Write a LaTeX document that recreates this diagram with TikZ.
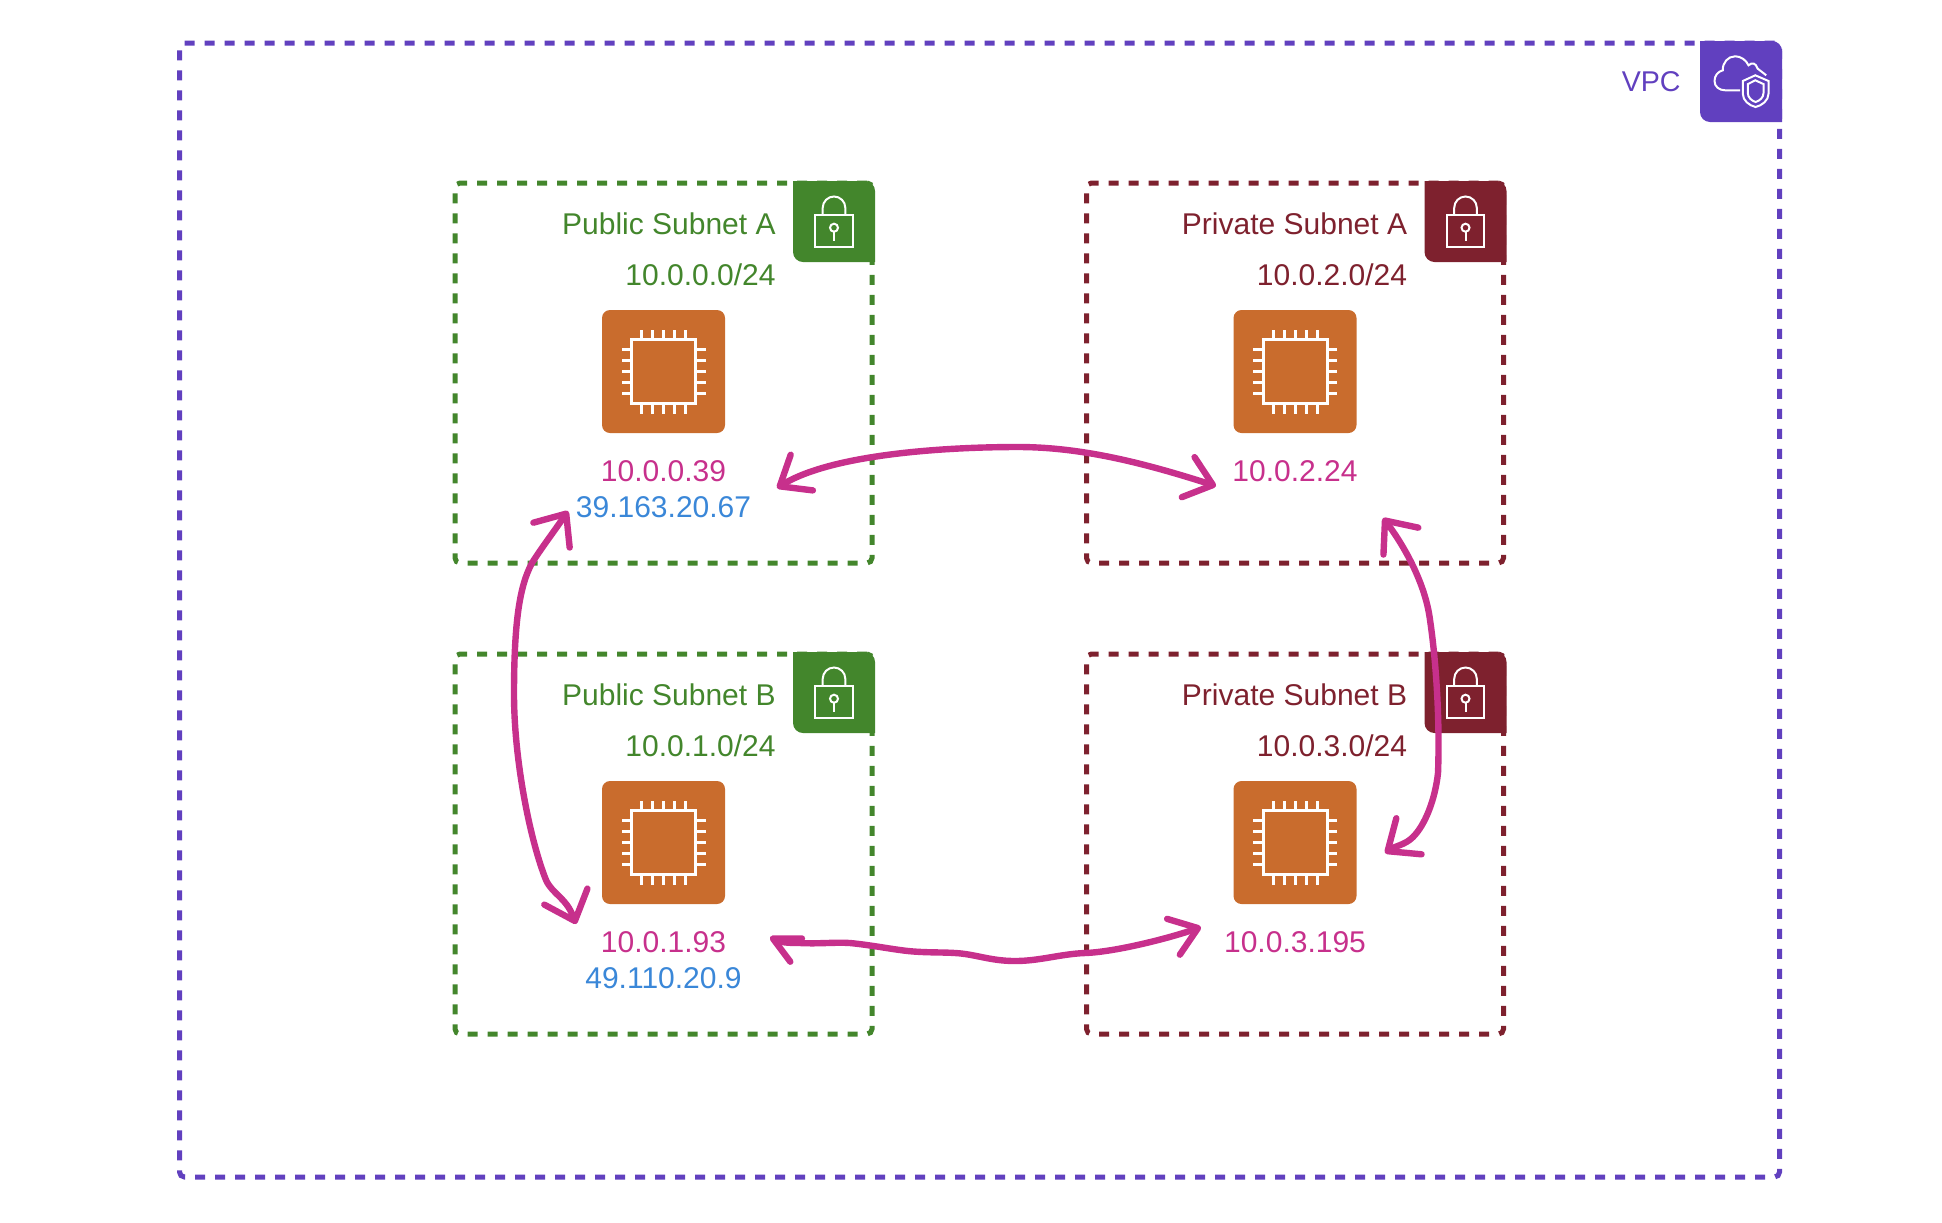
\documentclass[tikz,border=0pt]{standalone}
\usepackage{fontspec}
\setmainfont{Liberation Sans}
\definecolor{VpcPurple}{HTML}{6140BF}
\definecolor{PubGreen}{HTML}{43862C}
\definecolor{PrivMaroon}{HTML}{7E212E}
\definecolor{ChipOrange}{HTML}{C96C2D}
\definecolor{LinkPink}{HTML}{C7308C}
\definecolor{WanBlue}{HTML}{3A87D8}
\usetikzlibrary{arrows.meta,positioning}
\newcommand{\tileback}{\fill[pic actions] (-41,-40.5) [rounded corners=5pt] -- (41,-40.5) [sharp corners] -- (41,40.5) [rounded corners=5pt] -- (-41,40.5) [sharp corners] -- cycle;}

\begin{document}
\begin{tikzpicture}[
  x=.5pt,y=-.5pt,
  font=\fontsize{15}{18}\selectfont,
  vpcbox/.style={draw=VpcPurple,line width=2.5pt,dash pattern=on 5pt off 5pt,rounded corners=2.5pt,
    minimum width=800pt,minimum height=567pt,outer sep=0pt},
  subnet/.style={draw=#1,line width=2.5pt,dash pattern=on 5pt off 5pt,rounded corners=2.5pt,
    minimum width=208.5pt,minimum height=190pt,outer sep=0pt},
  chip/.style={fill=ChipOrange,rounded corners=4pt,minimum size=61.5pt,inner sep=0pt,outer sep=0pt},
  label/.style={text=#1,anchor=base east,inner sep=0pt},
  ipaddr/.style={text=#1,anchor=base,inner sep=0pt},
  iconline/.style={draw=white,line width=1pt,fill=none},
  sketch/.style 2 args={draw=LinkPink,line width=3.2pt,line cap=round,line join=round,
    {Straight Barb[length=13pt,width=#1,round]}-{Straight Barb[length=13pt,width=#2,round]}},
  locktile/.pic={
    \tileback
    \draw[iconline] (-18.8,-7) rectangle (18.8,25);
    \draw[iconline] (-11.3,-7) -- (-11.3,-13.7) arc[start angle=180,end angle=0,radius=5.65pt] -- (11.3,-7);
    \draw[iconline] (0,6.2) circle[radius=2pt];
    \draw[iconline] (0,10.2) -- (0,19);
  },
  cloudtile/.pic={
    \tileback
    \draw[iconline] (-.8,8.8) -- (-15.8,8.8) .. controls (-22,8.8) and (-26.5,5) .. (-26.5,-.5)
      .. controls (-26.5,-6) and (-23,-10) .. (-18.2,-11.2)
      .. controls (-18.5,-19) and (-13,-25.2) .. (-5.8,-25.2)
      .. controls (0,-25.2) and (5,-21.5) .. (7.5,-16.2)
      .. controls (11,-19.5) and (15,-18.5) .. (16.5,-13)
      -- (25.2,-6.2);
    \draw[iconline] (14.3,-6.2) -- (1.8,-.5) -- (1.8,12.2) .. controls (1.8,19) and (8,24) .. (14.6,25.5)
      .. controls (21,24) and (27.5,19) .. (27.5,12.2) -- (27.5,-.5) -- cycle;
    \draw[iconline] (14.3,-1.2) -- (6.8,2.6) -- (6.8,11.5) .. controls (6.8,16) and (10.5,19.2) .. (14.6,20.5)
      .. controls (18.8,19.2) and (22.5,16) .. (22.5,11.5) -- (22.5,2.6) -- cycle;
  },
  chipicon/.pic={
    \draw[draw=white,line width=1.5pt] (-32,-32) rectangle (32,32);
    \foreach \pinpos in {-22,-11,0,11,22}{
      \draw[draw=white,line width=1.5pt] (\pinpos,-33) -- (\pinpos,-42);
      \draw[draw=white,line width=1.5pt] (\pinpos,33) -- (\pinpos,42);
      \draw[draw=white,line width=1.5pt] (-33,\pinpos) -- (-42,\pinpos);
      \draw[draw=white,line width=1.5pt] (33,\pinpos) -- (42,\pinpos);
    }
  }
]
\useasboundingbox (0,0) rectangle (1942,1222);
\node[vpcbox] (vpc) at (979.5,610) {};
\pic[fill=VpcPurple] at (1741,81.5) {cloudtile};
\node[label=VpcPurple,font=\fontsize{14.3}{18}\selectfont] (vpcname) at (1681,91) {VPC};

\node[subnet=PubGreen] (pubA) at (663.5,373) {};
\node[subnet=PrivMaroon,right=107.25pt of pubA] (privA) {};
\node[subnet=PubGreen,below=45.5pt of pubA] (pubB) {};
\node[subnet=PrivMaroon,below=45.5pt of privA] (privB) {};

\pic[fill=PubGreen] at ([shift={(-38,38.5)}]pubA.north east) {locktile};
\pic[fill=PrivMaroon] at ([shift={(-38,38.5)}]privA.north east) {locktile};
\pic[fill=PubGreen] at ([shift={(-38,38.5)}]pubB.north east) {locktile};
\pic[fill=PrivMaroon] at ([shift={(-38,38.5)}]privB.north east) {locktile};

\node[label=PubGreen] (pubAname) at ([shift={(-96,51)}]pubA.north east) {Public Subnet A};
\node[label=PubGreen] (pubAcidr) at ([shift={(-96,102)}]pubA.north east) {10.0.0.0/24};
\node[label=PrivMaroon] (privAname) at ([shift={(-96,51)}]privA.north east) {Private Subnet A};
\node[label=PrivMaroon] (privAcidr) at ([shift={(-96,102)}]privA.north east) {10.0.2.0/24};
\node[label=PubGreen] (pubBname) at ([shift={(-96,51)}]pubB.north east) {Public Subnet B};
\node[label=PubGreen] (pubBcidr) at ([shift={(-96,102)}]pubB.north east) {10.0.1.0/24};
\node[label=PrivMaroon] (privBname) at ([shift={(-96,51)}]privB.north east) {Private Subnet B};
\node[label=PrivMaroon] (privBcidr) at ([shift={(-96,102)}]privB.north east) {10.0.3.0/24};

\node[chip,below=63.5pt of pubA.north] (chipPubA) {};
\node[chip,below=63.5pt of privA.north] (chipPrivA) {};
\node[chip,below=63.5pt of pubB.north] (chipPubB) {};
\node[chip,below=63.5pt of privB.north] (chipPrivB) {};
\pic at (chipPubA) {chipicon};
\pic at (chipPrivA) {chipicon};
\pic at (chipPubB) {chipicon};
\pic at (chipPrivB) {chipicon};

\node[ipaddr=LinkPink] (ipPubA) at ([yshift=-24pt]chipPubA.south) {10.0.0.39};
\node[ipaddr=WanBlue] (wanPubA) at ([yshift=-18pt]ipPubA.base) {39.163.20.67};
\node[ipaddr=LinkPink] (ipPrivA) at ([yshift=-24pt]chipPrivA.south) {10.0.2.24};
\node[ipaddr=LinkPink] (ipPubB) at ([yshift=-24pt]chipPubB.south) {10.0.1.93};
\node[ipaddr=WanBlue] (wanPubB) at ([yshift=-18pt]ipPubB.base) {49.110.20.9};
\node[ipaddr=LinkPink] (ipPrivB) at ([yshift=-24pt]chipPrivB.south) {10.0.3.195};

\coordinate (topLeft) at (777,488);
\coordinate (topRight) at (1216,486);
\coordinate (leftTop) at (568,511);
\coordinate (leftBottom) at (576,924);
\coordinate (rightTop) at (1383,518);
\coordinate (rightBottom) at (1385,853);
\coordinate (lowLeft) at (770,937);
\coordinate (lowRight) at (1201,927);

\draw[sketch={21pt}{21pt}] (topLeft) .. controls (830,455) and (940,447) .. (1018,447) .. controls (1085,447) and (1150,465) .. (topRight);
\draw[sketch={22pt}{23pt}] (leftTop) .. controls (555,530) and (540,550) .. (532,563) .. controls (520,585) and (514,620) .. (514,694) .. controls (514,760) and (530,840) .. (546,880) .. controls (553,895) and (566,897) .. (leftBottom);
\draw[sketch={22pt}{22pt}] (rightTop) .. controls (1400,540) and (1425,580) .. (1430,620) .. controls (1436,660) and (1440,720) .. (1438,773) .. controls (1435,800) and (1425,825) .. (1413,837) .. controls (1405,845) and (1395,846) .. (rightBottom);
\draw[sketch={13pt}{19pt}] (lowLeft) .. controls (780,942) and (785,943) .. (800,943) .. controls (820,944) and (835,942) .. (850,943) .. controls (870,945) and (885,948) .. (900,950) .. controls (920,953) and (940,952) .. (955,953) .. controls (975,954) and (990,961) .. (1015,961) .. controls (1040,961) and (1060,954) .. (1085,953) .. controls (1115,952) and (1170,938) .. (lowRight);
\end{tikzpicture}
\end{document}
